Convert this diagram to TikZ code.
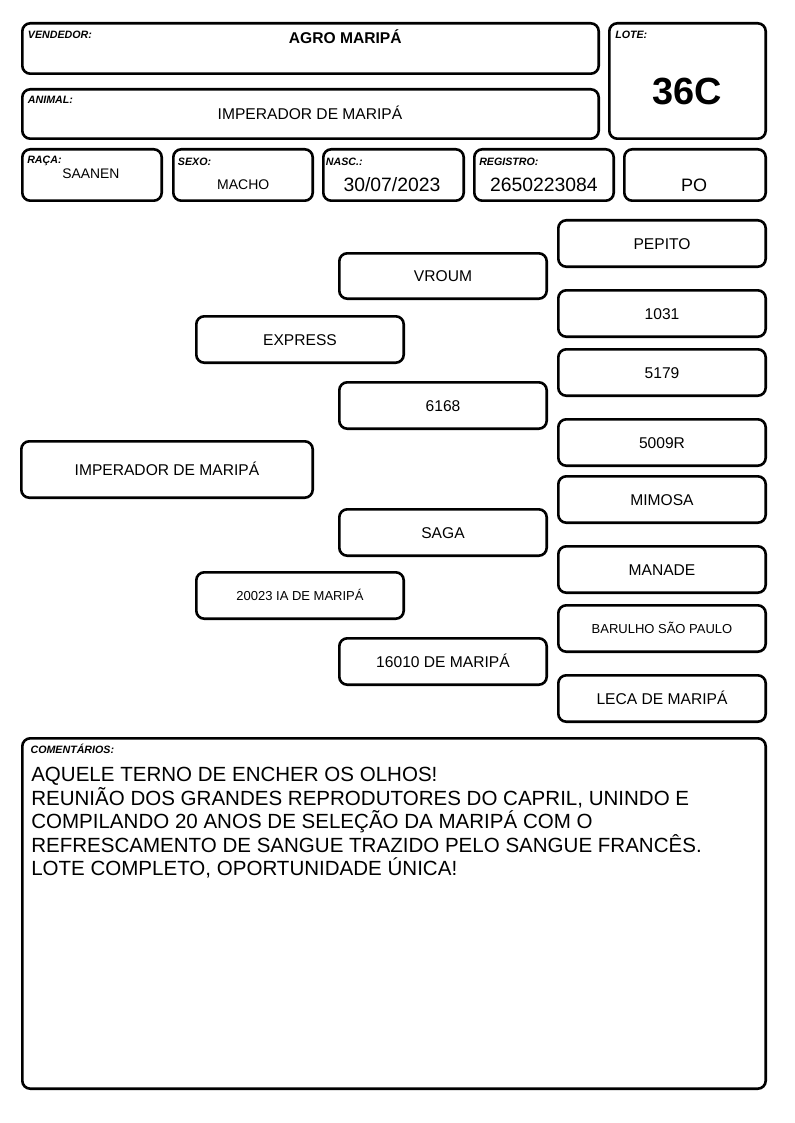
\documentclass[tikz,border=0pt]{standalone}
\usepackage{fontspec}
\setmainfont{Liberation Sans}
\newcommand\mkbox[7]{\node[cell, minimum width={(#4-#2-2.6)*0.75pt}, minimum height={(#5-#3-2.6)*0.75pt}, #6] (#1) at ({(#2+#4)/2},{(#3+#5)/2}) {#7};}
\begin{document}
\begin{tikzpicture}[x=0.75pt,y=-0.75pt,
  cell/.style={draw=black, line width=1.95pt, rounded corners=6pt, inner sep=0pt, fill=white},
  lbl/.style={anchor=base west, inner sep=0pt, font=\fontsize{8}{9}\selectfont\bfseries\itshape},
  val/.style={anchor=base, inner sep=0pt},
  ped/.style={font=\fontsize{11.7}{13}\selectfont, text height=8.4pt, text depth=0pt},
  peds/.style={font=\fontsize{9.75}{11}\selectfont, text height=7pt, text depth=0pt},
  cmt/.style={anchor=base west, inner sep=0pt, font=\fontsize{15.4}{17.6}\selectfont}]
\useasboundingbox (0,0) rectangle (794,1123);
% header
\mkbox{vend}{21}{22}{600}{75}{}{}
\mkbox{lote}{608}{22}{767}{140}{}{}
\mkbox{anim}{21}{88}{600}{140}{}{}
\mkbox{raca}{21}{148}{163}{202}{}{}
\mkbox{sexo}{172}{148}{314}{202}{}{}
\mkbox{nasc}{322}{148}{465}{202}{}{}
\mkbox{regi}{473}{148}{615}{202}{}{}
\mkbox{po}{623}{148}{767}{202}{}{}
\node[lbl] (lvend) at (27.7,39) {VENDEDOR:};
\node[lbl] (lanim) at (27.7,103.3) {ANIMAL:};
\node[lbl] (llote) at (615,39) {LOTE:};
\node[lbl] (lraca) at (27,163.3) {RAÇA:};
\node[lbl] (lsexo) at (177.7,165.6) {SEXO:};
\node[lbl] (lnasc) at (325.7,165.6) {NASC.:};
\node[lbl] (lregi) at (479,165.6) {REGISTRO:};
\node[val, font=\fontsize{11.7}{13}\selectfont\bfseries] (tvend) at (345.3,43.3) {AGRO MARIPÁ};
\node[val, font=\fontsize{11.7}{13}\selectfont] (tanim) at (310,120) {IMPERADOR DE MARIPÁ};
\node[val, font=\fontsize{28.4}{30}\selectfont\bfseries] (tlote) at (687,104.3) {36C};
\node[val, font=\fontsize{10.4}{12}\selectfont] (traca) at (90.8,178.7) {SAANEN};
\node[val, font=\fontsize{10.5}{12}\selectfont] (tsexo) at (243.3,189.3) {MACHO};
\node[val, font=\fontsize{14.5}{16}\selectfont] (tnasc) at (392,191.7) {30/07/2023};
\node[val, font=\fontsize{14.5}{16}\selectfont] (tregi) at (543.8,191.7) {2650223084};
\node[val, font=\fontsize{13.5}{15}\selectfont] (tpo) at (694,191.7) {PO};
% pedigree
\mkbox{pepito}{557}{219}{767}{268}{ped}{PEPITO}
\mkbox{vroum}{338}{252}{548}{300}{ped}{VROUM}
\mkbox{n1031}{557}{289}{767}{338}{ped}{1031}
\mkbox{express}{195}{315}{405}{364}{ped}{EXPRESS}
\mkbox{n5179}{557}{348}{767}{397}{ped}{5179}
\mkbox{n6168}{338}{381}{548}{430}{ped}{6168}
\mkbox{n5009}{557}{418}{767}{467}{ped}{5009R}
\mkbox{imper}{20}{440}{314}{499}{ped}{IMPERADOR DE MARIPÁ}
\mkbox{mimosa}{557}{475}{767}{524}{ped}{MIMOSA}
\mkbox{saga}{338}{508}{548}{557}{ped}{SAGA}
\mkbox{manade}{557}{545}{767}{594}{ped}{MANADE}
\mkbox{n20023}{195}{571}{405}{620}{peds}{20023 IA DE MARIPÁ}
\mkbox{barulho}{557}{604}{767}{653}{peds}{BARULHO SÃO PAULO}
\mkbox{n16010}{338}{637}{548}{686}{ped}{16010 DE MARIPÁ}
\mkbox{leca}{557}{674}{767}{723}{ped}{LECA DE MARIPÁ}
% comments
\mkbox{coment}{21}{737}{767}{1090}{}{}
\node[lbl] (lcoment) at (30.3,753.3) {COMENTÁRIOS:};
\node[cmt] (c1) at (31,781.7) {AQUELE TERNO DE ENCHER OS OLHOS!};
\node[cmt] (c2) at (31,805.2) {REUNIÃO DOS GRANDES REPRODUTORES DO CAPRIL, UNINDO E};
\node[cmt] (c3) at (31,828.7) {COMPILANDO 20 ANOS DE SELEÇÃO DA MARIPÁ COM O};
\node[cmt] (c4) at (31,852.2) {REFRESCAMENTO DE SANGUE TRAZIDO PELO SANGUE FRANCÊS.};
\node[cmt] (c5) at (31,875.7) {LOTE COMPLETO, OPORTUNIDADE ÚNICA!};
\end{tikzpicture}
\end{document}
